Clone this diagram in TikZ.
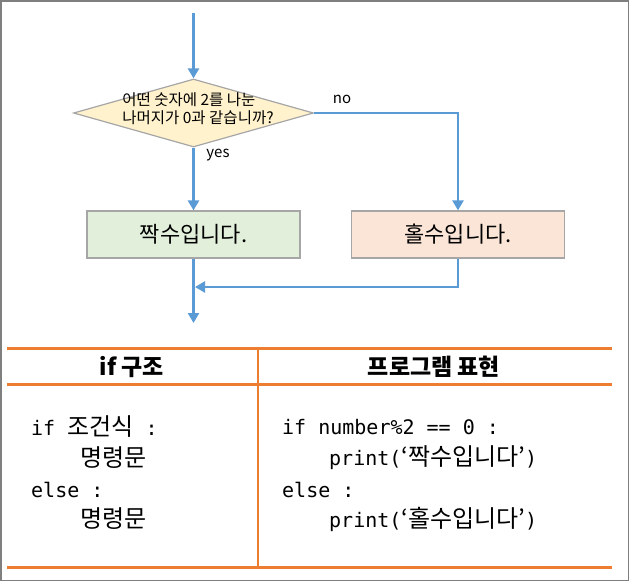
\documentclass[tikz,border=0pt]{standalone}
\usepackage{fontspec}
\setmainfont{Noto Sans CJK KR}
\setmonofont{DejaVu Sans Mono}
\usetikzlibrary{shapes.geometric, arrows.meta, positioning, calc}
\definecolor{flowblue}{HTML}{5B9BD5}
\definecolor{boxgray}{HTML}{A6A6A6}
\definecolor{framegray}{HTML}{7F7F7F}
\definecolor{condfill}{HTML}{FFF2CC}
\definecolor{evenfill}{HTML}{E2EFDA}
\definecolor{oddfill}{HTML}{FBE5D6}
\definecolor{tableorange}{HTML}{ED7D31}
\newcommand{\kr}[1]{{\rmfamily\fontsize{24}{30}\selectfont #1}}

\begin{document}
\begin{tikzpicture}[
    x=1pt, y=-1pt,
    flow/.style={-{Triangle[length=10pt, width=11pt]}, line width=2.5pt, draw=flowblue},
    decision/.style={diamond, draw=boxgray, fill=condfill, line width=1.2pt, minimum width=240pt, minimum height=68pt, inner sep=0pt},
    result/.style={rectangle, draw=boxgray, line width=1.2pt, minimum width=213pt, minimum height=47pt, font=\fontsize{22}{26}\selectfont},
    tline/.style={draw=tableorange, line width=3pt},
    code/.style={anchor=west, inner sep=0pt, font=\ttfamily\fontsize{20}{24}\selectfont},
    head/.style={font=\bfseries\fontsize{23}{27}\selectfont},
]
\useasboundingbox (0,0) rectangle (629,581);
\draw[framegray, line width=1.5pt] (0.75,0.75) rectangle (628.25,580.25);

\coordinate (start) at (193.5,13);
\node[decision] (cond) at (193.5,113) {};
\node[align=left, inner sep=0pt, font=\fontsize{15.5}{18}\selectfont] (condtext) at (198,109) {어떤 숫자에 2를 나눈\\나머지가 0과 같습니까?};
\node[result, fill=evenfill] (even) at (193.5,234.5) {짝수입니다.};
\node[result, fill=oddfill] (odd) at (458,234.5) {홀수입니다.};
\coordinate (merge) at (195,287);
\coordinate (finish) at (193.5,323);

\node[font=\fontsize{15}{18}\selectfont] (no) at (342,99) {no};
\node[font=\fontsize{15}{18}\selectfont] (yes) at (218,155) {yes};

\draw[flow] (start) -- (cond.north);
\draw[flow] (cond.south) -- (even.north);
\draw[flow] (cond.east) -| (odd.north);
\draw[flow] (odd.south) |- (merge);
\draw[flow] (even.south) -- (finish);

\coordinate (topL) at (7,348);
\coordinate (topR) at (612,348);
\coordinate (midL) at (7,384);
\coordinate (midR) at (612,384);
\coordinate (botL) at (7,567);
\coordinate (botR) at (612,567);
\coordinate (divT) at (258,348);
\coordinate (divB) at (258,567);
\draw[tline] (topL) -- (topR);
\draw[tline] (midL) -- (midR);
\draw[tline] (botL) -- (botR);
\draw[draw=tableorange, line width=1.5pt] (divT) -- (divB);

\node[head] (structhead) at (132,367) {if 구조};
\node[head] (codehead) at (434,367) {프로그램 표현};

\node[code] (ifline) at (31,427) {if \kr{조건식} :};
\node[code] (stmtA) at (80,458) {\kr{명령문}};
\node[code] (elseline) at (31,490) {else :};
\node[code] (stmtB) at (80,519) {\kr{명령문}};
\node[code] (ifnum) at (282,427) {if number\%2 == 0 :};
\node[code] (printeven) at (329,458) {print(\kr{‘짝수입니다’})};
\node[code] (elsenum) at (282,490) {else :};
\node[code] (printodd) at (329,519) {print(\kr{‘홀수입니다’})};
\end{tikzpicture}
\end{document}
